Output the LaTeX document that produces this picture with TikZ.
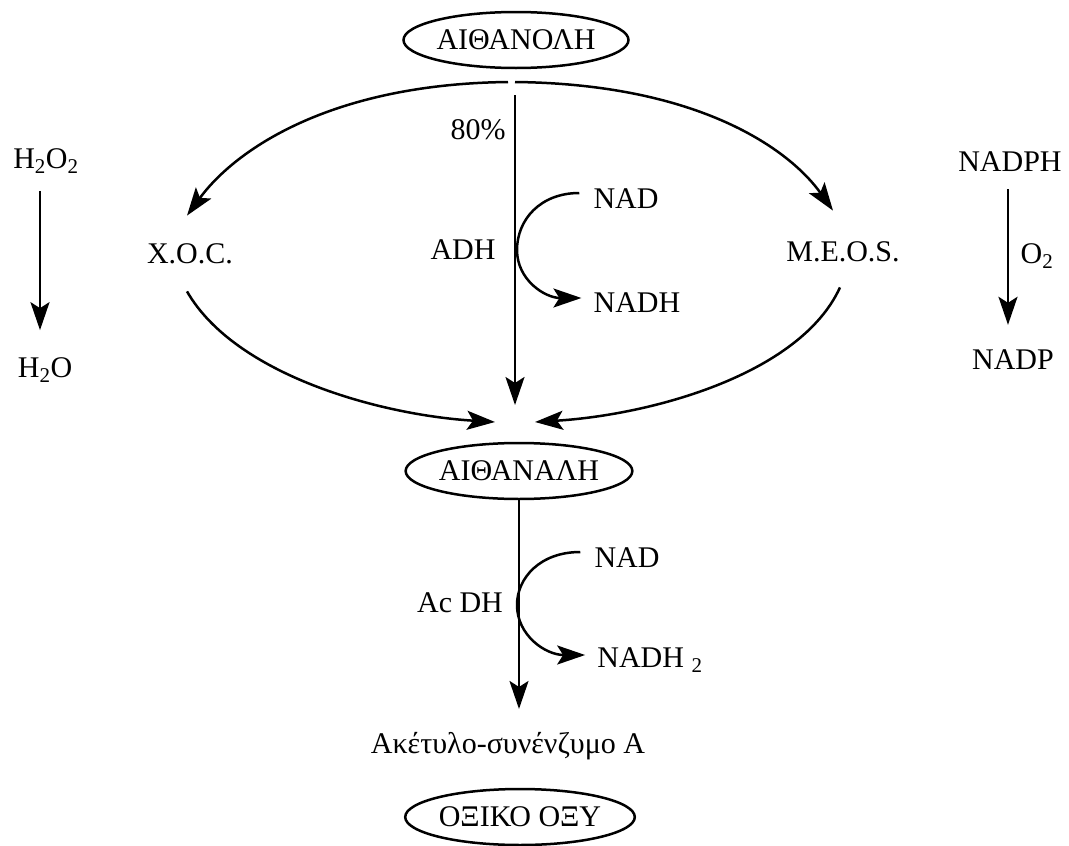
\documentclass[tikz,border=0pt]{standalone}
\usepackage{fontspec}
\setmainfont{Liberation Serif}
\usetikzlibrary{shapes.geometric,arrows.meta}
\begin{document}
\begin{tikzpicture}[x=1pt,y=-1pt,line width=2.5pt,every node/.style={inner sep=1pt,font=\fontsize{30}{36}\selectfont}]
\tikzstyle{arrow}=[draw,-{Stealth[length=28pt,width=19pt,inset=6pt]}]
\tikzstyle{oval}=[draw,ellipse,minimum width=225pt,minimum height=56pt,inner sep=0pt]
\useasboundingbox (0,0) rectangle (1069,846);

% main path
\node[oval](eth) at (516,40){ΑΙΘΑΝΟΛΗ};
\node[oval](ald) at (519,471){ΑΙΘΑΝΑΛΗ};
\node(acoa) at (508,746){Ακέτυλο-συνένζυμο Α};
\node[oval](acid) at (520,817){ΟΞΙΚΟ ΟΞΥ};
\coordinate(fork) at (512,82);
\coordinate(join) at (515,422);

\node(xoc) at (190,254){X.O.C.};
\node(meos) at (843,252){M.E.O.S.};
\node(pct) at (478,130){80\%};
\node(adh) at (463,250){ADH};
\node(nad1) at (626,199){NAD};
\node(nadh1) at (637,303){NADH};
\node(acdh) at (460,603){Ac DH};
\node(nad2) at (627,558){NAD};
\node(nadh2) at (650,660){NADH \textsubscript{2}};

% side reactions
\node(hoo) at (46,161){H\textsubscript{2}O\textsubscript{2}};
\node(ho) at (45,370){H\textsubscript{2}O};
\node(nadph) at (1010,162){NADPH};
\node(nadp) at (1013,360){NADP};
\node(otwo) at (1037,256){O\textsubscript{2}};

% arrows
\draw[arrow] ([xshift=-4pt]fork) .. controls (330,84) and (235,150) .. ([shift={(-3pt,26pt)}]xoc.north);
\draw[arrow] ([xshift=3pt]fork) .. controls (700,84) and (790,150) .. ([shift={(-10pt,29pt)}]meos.north);
\draw[arrow] ([yshift=-13pt]fork.center-|join) -- ([yshift=17pt]join);
\draw[arrow] ([shift={(-3pt,-25pt)}]xoc.south) .. controls (235,375) and (380,415) .. ([xshift=-20pt]join);
\draw[arrow] ([shift={(-3pt,-23pt)}]meos.south) .. controls (800,375) and (650,415) .. ([xshift=20pt]join);
\draw[arrow] (nad1.west) ++(-12pt,6pt) .. controls (540,193) and (517,220) .. (517,250) .. controls (517,280) and (545,298) .. ([xshift=-10pt,yshift=5pt]nadh1.west);

\draw[arrow] (ald.south) -- ([yshift=21pt]acoa.north-|ald.south);
\draw[arrow] (nad2.west) ++(-12pt,6pt) .. controls (540,552) and (517,578) .. (517,605) .. controls (517,635) and (545,655) .. ([xshift=-10pt,yshift=5pt]nadh2.west);

\draw[arrow] ([xshift=-6pt,yshift=-15pt]hoo.south) -- ([xshift=-5pt,yshift=25pt]ho.north);
\draw[arrow] ([xshift=-2pt,yshift=-15pt]nadph.south) -- ([xshift=-5pt,yshift=23pt]nadp.north);
\end{tikzpicture}
\end{document}
